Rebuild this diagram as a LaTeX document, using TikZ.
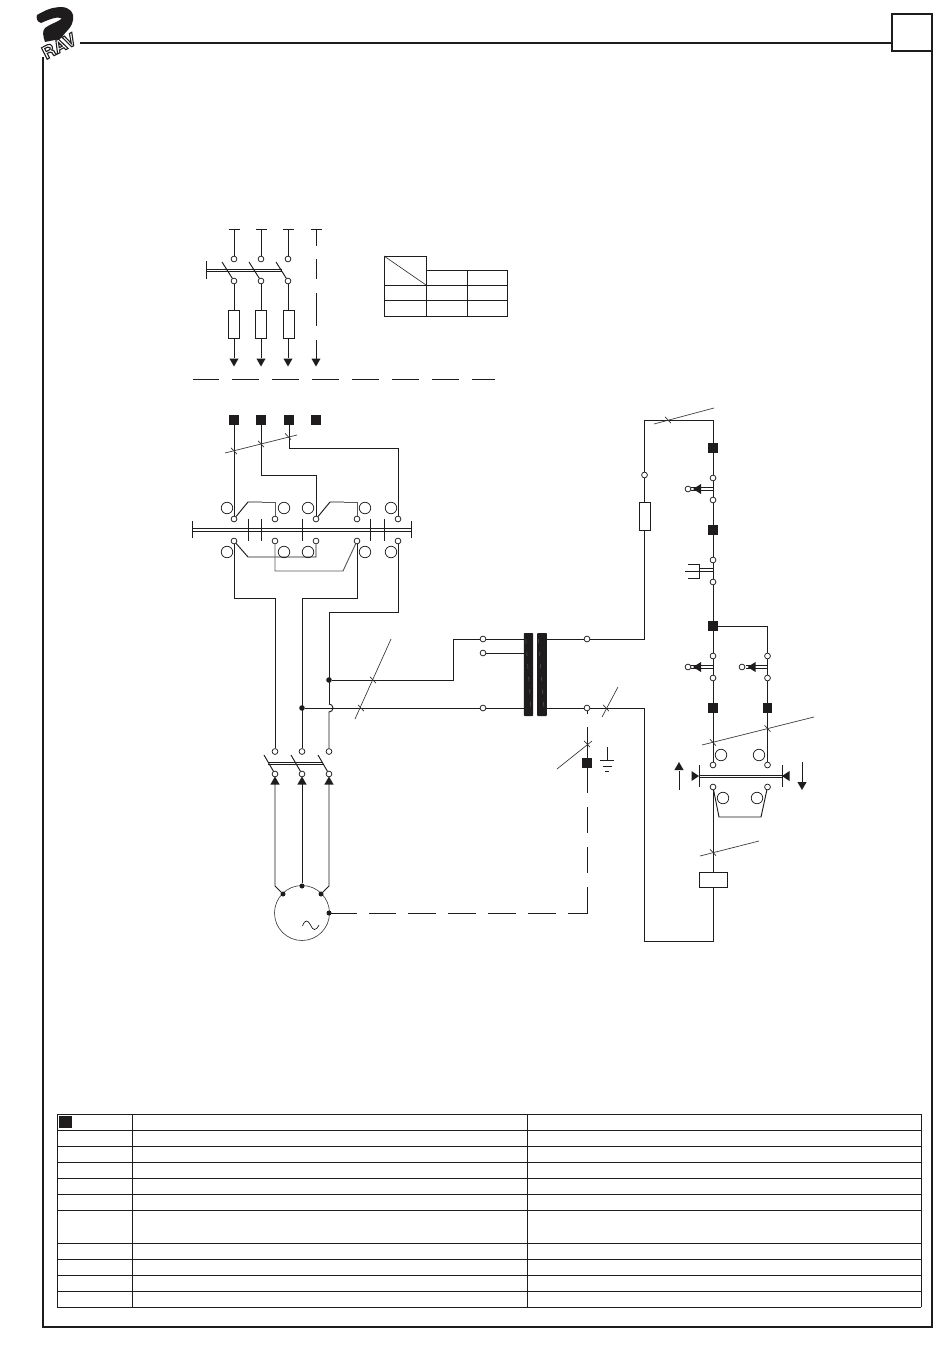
\documentclass[tikz,border=0pt]{standalone}
\usepackage{fontspec}
\setsansfont{TeX Gyre Heros}
\definecolor{ink}{HTML}{1E1C1C}
\definecolor{thin}{HTML}{333333}
\definecolor{grayw}{HTML}{5A5A5A}
\tikzset{
  wire/.style={draw=ink,line width=0.95pt},
  grayline/.style={draw=grayw,line width=0.95pt},
  frameline/.style={draw=ink,line width=2pt},
  cable/.style={draw=thin,line width=0.65pt},
  tablerule/.style={draw=ink,line width=1pt},
  term/.style={circle,draw=ink,fill=white,line width=0.75pt,inner sep=0pt,minimum size=5.8pt},
  bigterm/.style={circle,draw=ink,line width=0.75pt,inner sep=0pt,minimum size=11.5pt},
  junc/.style={circle,fill=ink,inner sep=0pt,minimum size=5.6pt},
  sq/.style={rectangle,fill=ink,inner sep=0pt,minimum size=9.8pt},
  fuse/.style={rectangle,draw=ink,fill=white,line width=0.85pt,inner sep=0pt,minimum width=11pt,minimum height=27.5pt},
  coil/.style={rectangle,draw=ink,fill=white,line width=0.95pt,inner sep=0pt,minimum width=28pt,minimum height=15pt},
  logotext/.style={font=\sffamily\bfseries\fontsize{17.5}{17.5}\selectfont,rotate=27,inner sep=0pt,text=white},
}
% tick on a cable crossing
\newcommand{\crossmark}[2]{\draw[cable] (#1-3,#2-3.2) -- (#1+3,#2+3.2);}
% filled triangles, tip at the given point
\newcommand{\tridown}[2]{\fill[ink] (#1,#2) -- (#1-4.6,#2-8) -- (#1+4.6,#2-8) -- cycle;}
\newcommand{\triup}[2]{\fill[ink] (#1,#2) -- (#1-4.6,#2+8) -- (#1+4.6,#2+8) -- cycle;}
\begin{document}
\begin{tikzpicture}[x=1pt,y=-1pt]
\useasboundingbox (0,0) rectangle (950,1370);
\fill[white] (0,0) rectangle (950,1370);

%% ---------- page frame ----------
\draw[frameline] (43,57) -- (43,1327) -- (932,1327) -- (932,51);
\draw[frameline] (80,43) -- (892,43);
\node[rectangle,draw=ink,line width=2pt,inner sep=0pt,minimum width=40pt,minimum height=37pt] (pagebox) at (912,32.5) {};

%% ---------- logo ----------
\fill[ink] (37,15) .. controls (44,11) and (50,8) .. (56,7.5) .. controls (64,6) and (71,8) .. (73,15)
  .. controls (74,22) and (71,27) .. (67,31) -- (60,39) -- (45,42) .. controls (43,36) and (42,31) .. (45,28)
  .. controls (50,24) and (58,22) .. (62,18.5) .. controls (58,16) and (50,19) .. (41,23) .. controls (37,22) and (36,18) .. (37,15) -- cycle;
\node[logotext] (logo) at (59,46) {\special{pdf:code 2 Tr 1.1 w 0.12 0.11 0.11 RG}RAV\special{pdf:code 0 Tr 0 w}};

%% ---------- top supply diagram ----------
\foreach \n/\x/\f in {a/234/234,b/261/261,c/288/289}{
  \node[term] (top\n) at (\x,259) {};
  \node[term] (bot\n) at (\x,281) {};
  \coordinate (head\n) at (\x,229);
  \coordinate (tip\n) at (\x,358);
  \draw[wire] (\x-5.5,229) -- (\x+5.5,229);
  \draw[wire] (head\n) -- (top\n);
  \draw[wire] (\x-12,262) -- (bot\n);
  \draw[wire] (bot\n) -- (tip\n);
  \node[fuse] (fuse\n) at (\f,324.5) {};
  \tridown{\x}{366.5}
}
\draw[wire] (206,269) -- (282,269);
\draw[wire] (206,271.4) -- (282,271.4);
\draw[wire] (206,261) -- (206,279);
\draw[wire] (310.5,229) -- (321.5,229);
\draw[wire] (316,229) -- (316,246);
\draw[wire] (316,259) -- (316,279);
\draw[wire] (316,293) -- (316,326);
\draw[wire] (316,340) -- (316,360);
\tridown{316}{366.5}
\foreach \a/\b in {193/219,232/259,272/299,312/339,352/379,392/419,432/459,472/495}
  \draw[wire] (\a,379) -- (\b,379);

%% ---------- small table ----------
\draw[wire] (426,256) -- (384,256) -- (384,316) -- (507,316) -- (507,270) -- (426,270);
\draw[wire] (426,256) -- (426,316);
\draw[wire] (467,270) -- (467,316);
\draw[wire] (384,285) -- (507,285);
\draw[wire] (384,300) -- (507,300);
\draw[cable] (384,256) -- (426,285);

%% ---------- selector switch ----------
\foreach \n/\x in {a/234,b/261,c/289,d/316}
  \node[sq] (in\n) at (\x,420) {};
\foreach \n/\x in {1/234,2/275,3/316,4/357,5/398}{
  \node[term] (u\n) at (\x,519) {};
  \node[term] (l\n) at (\x,541) {};
}
\foreach \x in {227,284,308,365,391}{
  \node[bigterm] at (\x,508) {};
  \node[bigterm] at (\x,552) {};
}
\draw[wire] (192,528.2) -- (411,528.2);
\draw[wire] (192,531) -- (411,531);
\draw[wire] (192,521) -- (192,538);
\draw[wire] (411,521) -- (411,538);
\foreach \x in {248,261,302,370,384}
  \draw[wire] (\x,518.5) -- (\x,541);

\draw[wire] (ina) -- (u1);
\draw[wire] (inb) -- (261,475) -| (u3);
\draw[wire] (inc) -- (289,448) -| (u5);
\draw[cable] (225,453) -- (297,435);
\crossmark{234}{451}
\crossmark{261}{444}
\crossmark{288}{436.5}

\draw[wire] (u1) -- (248,502) -- (262,502);
\draw[grayline] (262,502) -- (275,502) -- (u2);
\draw[wire] (u3) -- (330,502) -- (344,502);
\draw[grayline] (344,502) -- (357,502) -- (u4);
\draw[wire] (l1) -- (248,557) -- (316,557) -- (l3);
\draw[grayline] (l2) -- (275,571) -- (343,571) -- (l4);

%% ---------- motor contactor ----------
\foreach \n/\x in {a/275,b/302,c/329}{
  \node[term] (mt\n) at (\x,751.5) {};
  \node[term] (mb\n) at (\x,774) {};
  \draw[wire] (\x-11,755) -- (mb\n);
  \triup{\x}{776.5}
}
\draw[wire] (268,762) -- (323,762);
\draw[wire] (268,764.4) -- (323,764.4);

\draw[wire] (l1) -- (234,598) -- (275,598) -- (mta);
\draw[wire] (l4) -- (357,598) -- (302,598) -- (mtb);
\draw[wire] (l5) -- (398,612) -- (329,612) -- (329,704);
\draw[wire] (329,704) arc[start angle=-90,end angle=90,radius=4] -- (mtc);

%% ---------- junctions and transformer ----------
\node[junc] (j1) at (329,680) {};
\node[junc] (j2) at (302,708) {};
\node[term] (pri1) at (483,639) {};
\node[term] (pri2) at (483,653) {};
\node[term] (pri3) at (483,708) {};
\node[term] (sec1) at (587,639) {};
\node[term] (sec2) at (587,708) {};
\node[rectangle,fill=ink,rounded corners=0.8pt,inner sep=0pt,minimum width=9.2pt,minimum height=83pt] (corel) at (528.5,674.5) {};
\node[rectangle,fill=ink,rounded corners=0.8pt,inner sep=0pt,minimum width=9.6pt,minimum height=83pt] (corer) at (542,674.5) {};
\foreach \i in {0,...,5}{
  \draw[grayw,line width=0.5pt] (525.8+\i*0.95,639+\i*12.6) -- (526.1+\i*0.95,643.5+\i*12.6);
  \draw[grayw,line width=0.5pt] (538.5+\i*1,639+\i*12.6) -- (538.8+\i*1,643.5+\i*12.6);
}
\draw[wire] (j1) -- (453,680) -- (453,639) -- (pri1);
\draw[wire] (pri1) -- (corel.west |- pri1);
\draw[wire] (pri2) -- (corel.west |- pri2);
\draw[wire] (j2) -- (pri3);
\draw[wire] (pri3) -- (corel.west |- pri3);
\draw[wire] (corer.east |- sec1) -- (sec1);
\draw[wire] (corer.east |- sec2) -- (sec2);
\draw[cable] (355,719) -- (391,639);
\crossmark{373}{680}
\crossmark{361}{708}
\draw[cable] (602,717) -- (618,687);
\crossmark{606}{708}

%% ---------- earth branch ----------
\node[sq] (earthsq) at (587,763) {};
\draw[wire] (587,710.8) -- (587,714);
\draw[wire] (587,727) -- (earthsq);
\draw[cable] (557,769) -- (592,741);
\crossmark{587}{744}
\draw[wire] (607,747) -- (607,760.5);
\draw[wire] (600,760.5) -- (614,760.5);
\draw[wire] (602.5,766) -- (611.5,766);
\draw[wire] (605,771) -- (609,771);

%% ---------- motor ----------
\node[circle,draw=thin,line width=0.6pt,inner sep=0pt,minimum size=55pt] (motor) at (302,913) {};
\node[junc,minimum size=5pt] (md2) at (302,886) {};
\node[junc,minimum size=5pt] (md1) at (283,894) {};
\node[junc,minimum size=5pt] (md3) at (321,894) {};
\node[junc,minimum size=5pt] (md4) at (329,913) {};
\draw[wire] (275,784) -- (275,886) -- (md1);
\draw[wire] (302,784) -- (md2);
\draw[wire] (329,784) -- (329,886) -- (md3);
\draw[thin,line width=0.6pt] (302.5,926) .. controls (305,919) and (308,920) .. (310.5,925)
  .. controls (313,931) and (316,931) .. (319,925);
\foreach \a/\b in {329/357,369/396,408/436,448/476,488/516,528/556}
  \draw[wire] (\a,913) -- (\b,913);
\draw[wire] (568,913) -- (587,913) -- (587,887);
\draw[wire] (earthsq) -- (587,793);
\draw[wire] (587,807) -- (587,833);
\draw[wire] (587,847) -- (587,873);

%% ---------- control circuit ----------
\node[term] (fterm) at (644.5,475) {};
\node[fuse,minimum width=11.5pt,minimum height=28pt] (cfuse) at (645,516) {};
\node[sq] (s1) at (713,448) {};
\node[sq] (s2) at (713,530) {};
\node[sq] (s3) at (713,626) {};
\node[sq] (s4) at (713,708) {};
\node[sq] (s5) at (767.5,708) {};
\node[term] (c1) at (713,478) {};
\node[term] (c2) at (713,500) {};
\node[term] (c3) at (713,560) {};
\node[term] (c4) at (713,582) {};
\node[term] (c5) at (713,656) {};
\node[term] (c6) at (713,678) {};
\node[term] (c7) at (767.5,656) {};
\node[term] (c8) at (767.5,678) {};
\node[term] (c9) at (713,765) {};
\node[term] (c10) at (767.5,765) {};
\node[term] (c11) at (713,787) {};
\node[term] (c12) at (767.5,787) {};
\node[bigterm] at (721,755) {};
\node[bigterm] at (759,755) {};
\node[bigterm] at (723,798) {};
\node[bigterm] at (757,798) {};
\node[term] (k1) at (688,489) {};
\node[term] (k2) at (688,667) {};
\node[term] (k3) at (742,667) {};
\node[coil] (coil) at (713,879.5) {};

\draw[wire] (sec1) -- (644.5,639) -- (644.5,530);
\draw[wire] (644.5,502) -- (fterm);
\draw[wire] (fterm) -- (644.5,420) -- (713,420) -- (s1);
\draw[wire] (s1) -- (c1);
\draw[wire] (c1) -- (c2);
\draw[wire] (c2) -- (s2);
\draw[wire] (s2) -- (c3);
\draw[wire] (c3) -- (c4);
\draw[wire] (c4) -- (s3);
\draw[wire] (s3) -- (c5);
\draw[wire] (c5) -- (c6);
\draw[wire] (c6) -- (s4);
\draw[wire] (s3) -- (767.5,626) -- (c7);
\draw[wire] (c7) -- (c8);
\draw[wire] (c8) -- (s5);
\draw[wire] (s4) -- (c9);
\draw[wire] (s5) -- (c10);
\draw[wire] (c11) -- (coil);
\draw[wire] (sec2) -- (644.5,708) -- (644.5,941) -- (713,941) -- (coil);
\draw[cable] (654,424) -- (714,408);
\crossmark{668}{420}

% limit / stop operators
\foreach \xr/\kk/\y in {713/k1/489,713/k2/667,767.5/k3/667}{
  \draw[wire] (\xr-22,\y-1.4) -- (\xr,\y-1.4);
  \draw[wire] (\xr-22,\y+1.4) -- (\xr,\y+1.4);
  \fill[ink] (\xr-20,\y) -- (\xr-12,\y-5) -- (\xr-12,\y+5) -- cycle;
}

% push button
\draw[wire] (700,568.7) -- (713,568.7);
\draw[wire] (700,571.9) -- (713,571.9);
\draw[wire] (688,564) -- (699.5,564) -- (699.5,578) -- (688,578);
\draw[wire] (685,571) -- (699.5,571);

% travel contact
\draw[wire] (699,775) -- (782,775);
\draw[wire] (699,777.2) -- (782,777.2);
\draw[wire] (699,765) -- (699,787);
\draw[wire] (782,765) -- (782,787);
\fill[ink] (699,776) -- (691.5,771) -- (691.5,781) -- cycle;
\fill[ink] (782,776) -- (789.5,771) -- (789.5,781) -- cycle;
\draw[wire] (c11) -- (719,817) -- (761,817) -- (c12);
\draw[cable] (702,745) -- (814,717);
\crossmark{713}{742.5}
\crossmark{767.5}{728.5}
\draw[cable] (700,856) -- (759,841);
\crossmark{713}{852.5}
% direction arrows
\coordinate (upfoot) at (679,790);
\coordinate (uptip) at (679,771);
\draw[wire] (upfoot) -- (uptip);
\triup{679}{762}
\coordinate (dnfoot) at (802,762);
\coordinate (dntip) at (802,782);
\draw[wire] (dnfoot) -- (dntip);
\tridown{802}{790}

%% ---------- legend table ----------
\foreach \y in {1114,1130,1146,1162,1178,1194,1210,1243,1259,1275,1291,1307}
  \draw[tablerule] (57,\y) -- (921,\y);
\foreach \x in {57,132,527,921}
  \draw[tablerule] (\x,1114) -- (\x,1307);
\node[rectangle,fill=ink,inner sep=0pt,minimum width=12.5pt,minimum height=12pt] (legendsq) at (65.5,1122) {};
\end{tikzpicture}
\end{document}
